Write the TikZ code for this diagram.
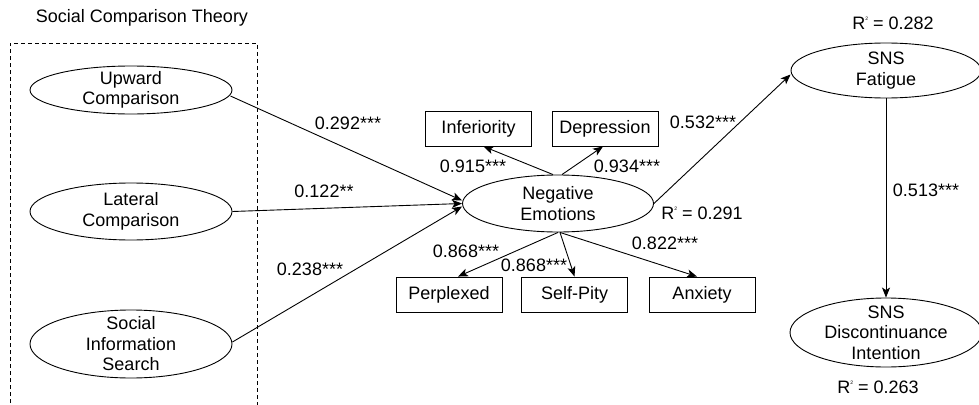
\documentclass[tikz,border=0pt]{standalone}
\usepackage{fontspec}
\setmainfont{Liberation Sans}
\usetikzlibrary{shapes.geometric,arrows.meta}
\newcommand{\Rsq}{R\raisebox{0.9ex}{\fontsize{5}{5}\selectfont 2}}
\begin{document}
\begin{tikzpicture}[x=1pt,y=-1pt,
  font=\fontsize{18}{20.5}\selectfont,
  line width=0.9pt,
  lv/.style={ellipse, draw, inner sep=0pt},
  ind/.style={draw, rectangle, minimum width=106pt, minimum height=35pt, inner sep=0pt},
  arr/.style={-{Stealth[length=10pt,width=8pt,inset=2.5pt]}},
  coef/.style={inner sep=0pt}]
\useasboundingbox (0,0) rectangle (979,404);
\clip (0,0) rectangle (979,404);

% frame
\draw[line width=0.8pt, dash pattern=on 4pt off 3pt] (10,410) -- (10,43) -- (257,43) -- (257,410);
\node[coef] (title) at (142,18) {Social Comparison Theory};

% latent variables
\node[lv, minimum width=202pt, minimum height=48pt, label={[align=center]center:Upward\\Comparison}] (up) at (131,90) {};
\node[lv, minimum width=202pt, minimum height=57pt, label={[align=center]center:Lateral\\Comparison}] (lat) at (131,211.5) {};
\node[lv, minimum width=202pt, minimum height=68pt, label={[align=center]center:Social\\Information\\Search}] (sis) at (131,344) {};
\node[lv, minimum width=191pt, minimum height=57pt, label={[align=center]center:Negative\\Emotions}] (ne) at (558,203.5) {};
\node[lv, minimum width=190pt, minimum height=55pt, label={[align=center]center:SNS\\Fatigue}] (fat) at (886,70.5) {};
\node[lv, minimum width=192pt, minimum height=69pt, label={[align=center]center:SNS\\Discontinuance\\Intention}] (dis) at (886,332.5) {};

% indicators
\node[ind] (inf) at (478.5,128.5) {Inferiority};
\node[ind] (dep) at (605,128.5) {Depression};
\node[ind] (perp) at (449,294.5) {Perplexed};
\node[ind] (sp) at (574.5,294.5) {Self-Pity};
\node[ind] (anx) at (702,294.5) {Anxiety};

% paths
\draw[arr] ([xshift=-2pt,yshift=-6pt]up.east) -- ([yshift=3pt]ne.west);
\draw[arr] (lat.east) -- (ne.west);
\draw[arr] ([yshift=2pt]sis.east) -- ([yshift=-3pt]ne.west);
\draw[arr] ([xshift=-5pt]ne.north) -- ([xshift=5pt]inf.south);
\draw[arr] ([xshift=4pt]ne.north) -- ([xshift=-2pt]dep.south);
\draw[arr] (ne.south) -- ([xshift=9pt]perp.north);
\draw[arr] ([xshift=2pt]ne.south) -- (sp.north);
\draw[arr] ([xshift=2pt]ne.south) -- ([xshift=-5pt]anx.north);
\draw[arr] (ne.east) -- ([yshift=-4pt]fat.west);
\draw[arr] (fat.south) -- (dis.north);

% coefficients
\node[coef] (c1) at (348,123) {0.292***};
\node[coef] (c2) at (324,191) {0.122**};
\node[coef] (c3) at (310,269) {0.238***};
\node[coef] (c4) at (473,166) {0.915***};
\node[coef] (c5) at (627,166) {0.934***};
\node[coef] (c6) at (703,122) {0.532***};
\node[coef] (c7) at (466,251) {0.868***};
\node[coef] (c8) at (534,265) {0.868***};
\node[coef] (c9) at (665,243) {0.822***};
\node[coef] (c10) at (926,190) {0.513***};
\node[coef] (r1) at (702,213) {\Rsq{} = 0.291};
\node[coef] (r2) at (893,23) {\Rsq{} = 0.282};
\node[coef] (r3) at (878,387) {\Rsq{} = 0.263};
\end{tikzpicture}
\end{document}
